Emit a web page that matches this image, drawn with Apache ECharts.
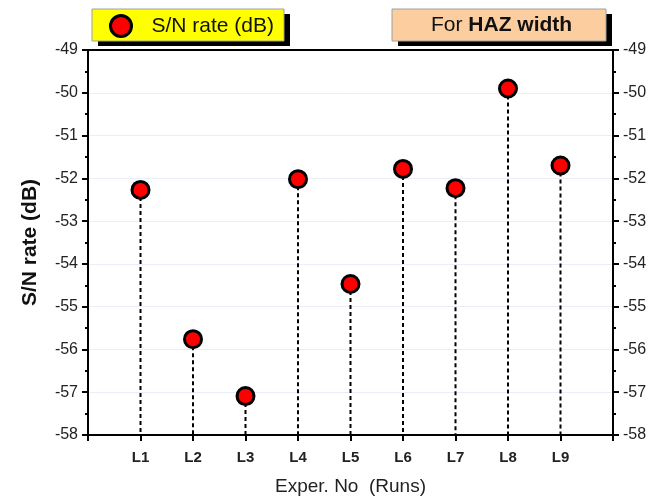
<!DOCTYPE html>
<html>
<head>
<meta charset="utf-8">
<script src="https://cdn.jsdelivr.net/npm/echarts@6/dist/echarts.min.js"></script>
<style>
  html, body { margin: 0; padding: 0; background: #fff; }
  #chart { width: 659px; height: 500px; }
</style>
</head>
<body>
<div id="chart"></div>
<script>
// Experimental runs (Taguchi L9) and their signal-to-noise ratios for HAZ width
const runs = ['L1', 'L2', 'L3', 'L4', 'L5', 'L6', 'L7', 'L8', 'L9'];
const snRate = [-52.27, -55.76, -57.09, -52.02, -54.47, -51.78, -52.23, -49.9, -51.7];
const yTicks = [-58, -57, -56, -55, -54, -53, -52, -51, -50, -49];

const FONT = '"Liberation Sans", Arial, sans-serif';
const yMin = yTicks[0];
const yMax = yTicks[yTicks.length - 1];

const points = snRate.map((v, i) => [i + 1, v]);

const chart = echarts.init(document.getElementById('chart'), null, { renderer: 'canvas' });

const yAxisBase = {
  type: 'value',
  min: yMin,
  max: yMax,
  interval: 1,
  axisLine: { show: true, onZero: false, lineStyle: { color: '#000', width: 2 } },
  axisTick: { show: true, length: 6, lineStyle: { color: '#000', width: 2 } },
  minorTick: { show: true, splitNumber: 2, length: 3, lineStyle: { color: '#000', width: 2 } },
  axisLabel: { color: '#222', fontSize: 16, fontFamily: FONT, margin: 10 }
};

// framed caption boxes with a hard drop shadow
function shadowBox(x, y, w, h, fill) {
  return [
    { type: 'rect', z: 0, silent: true, shape: { x: x + 6, y: y + 5, width: w, height: h }, style: { fill: '#000' } },
    { type: 'rect', z: 1, silent: true, shape: { x: x, y: y, width: w, height: h }, style: { fill: fill, stroke: '#a0a0a0', lineWidth: 1 } }
  ];
}

chart.setOption({
  animation: false,
  backgroundColor: '#fff',
  textStyle: { fontFamily: FONT },
  grid: { left: 88, right: 46, top: 50, bottom: 65, containLabel: false, outerBoundsMode: 'none' },
  graphic: [].concat(
    shadowBox(92, 9, 192, 32, '#ffff00'),
    shadowBox(392, 9, 214, 32, '#fccd9f')
  ),
  legend: {
    left: 109,
    top: 14,
    padding: 0,
    itemWidth: 21,
    itemHeight: 21,
    icon: 'circle',
    itemStyle: { color: '#ff0000', borderColor: '#000', borderWidth: 3 },
    textStyle: { color: '#111', fontSize: 21, fontFamily: FONT, padding: [0, 0, 0, 15] },
    data: ['S/N rate (dB)']
  },
  title: {
    left: 431,
    top: 13,
    padding: 0,
    text: 'For {b|HAZ width}',
    textStyle: {
      color: '#111',
      fontSize: 21,
      fontWeight: 'normal',
      fontFamily: FONT,
      lineHeight: 24,
      rich: {
        b: { fontSize: 21, fontWeight: 'bold', fontFamily: FONT, color: '#111', lineHeight: 24 }
      }
    }
  },
  xAxis: [
    {
      type: 'value',
      min: 0,
      max: 10,
      interval: 1,
      position: 'bottom',
      name: 'Exper. No  (Runs)',
      nameLocation: 'middle',
      nameGap: 42,
      nameTextStyle: { color: '#222', fontSize: 19, fontFamily: FONT },
      axisLine: { show: true, onZero: false, lineStyle: { color: '#000', width: 2 } },
      axisTick: { show: true, length: 6, lineStyle: { color: '#000', width: 2 } },
      axisLabel: {
        color: '#222',
        fontSize: 15,
        fontWeight: 'bold',
        fontFamily: FONT,
        margin: 15,
        showMinLabel: true,
        showMaxLabel: true,
        formatter: v => (v >= 1 && v <= runs.length ? runs[v - 1] : '')
      },
      splitLine: { show: false }
    },
    {
      type: 'value',
      min: 0,
      max: 10,
      position: 'top',
      axisLine: { show: true, onZero: false, lineStyle: { color: '#000', width: 2 } },
      axisTick: { show: false },
      axisLabel: { show: false },
      splitLine: { show: false }
    }
  ],
  yAxis: [
    Object.assign({}, yAxisBase, {
      position: 'left',
      name: 'S/N rate (dB)',
      nameLocation: 'middle',
      nameGap: 47,
      nameRotate: 90,
      nameTextStyle: { color: '#111', fontSize: 21, fontWeight: 'bold', fontFamily: FONT },
      splitLine: { show: true, lineStyle: { color: '#e9eef8', width: 1 } }
    }),
    Object.assign({}, yAxisBase, {
      position: 'right',
      splitLine: { show: false }
    })
  ],
  series: [
    {
      // dashed drop lines from each point down to the axis floor
      type: 'custom',
      name: 'drop',
      xAxisIndex: 0,
      yAxisIndex: 0,
      z: 2,
      silent: true,
      data: points,
      renderItem: (params, api) => {
        const top = api.coord([api.value(0), api.value(1)]);
        const bottom = api.coord([api.value(0), yMin]);
        return {
          type: 'line',
          shape: { x1: top[0], y1: top[1], x2: bottom[0], y2: bottom[1] },
          style: { stroke: '#000', lineWidth: 2, lineDash: [4, 3] }
        };
      }
    },
    {
      type: 'scatter',
      name: 'S/N rate (dB)',
      xAxisIndex: 0,
      yAxisIndex: 0,
      z: 5,
      symbol: 'circle',
      symbolSize: 17,
      itemStyle: { color: '#ff0000', borderColor: '#000', borderWidth: 3, opacity: 1 },
      data: points
    }
  ]
});
</script>
</body>
</html>
